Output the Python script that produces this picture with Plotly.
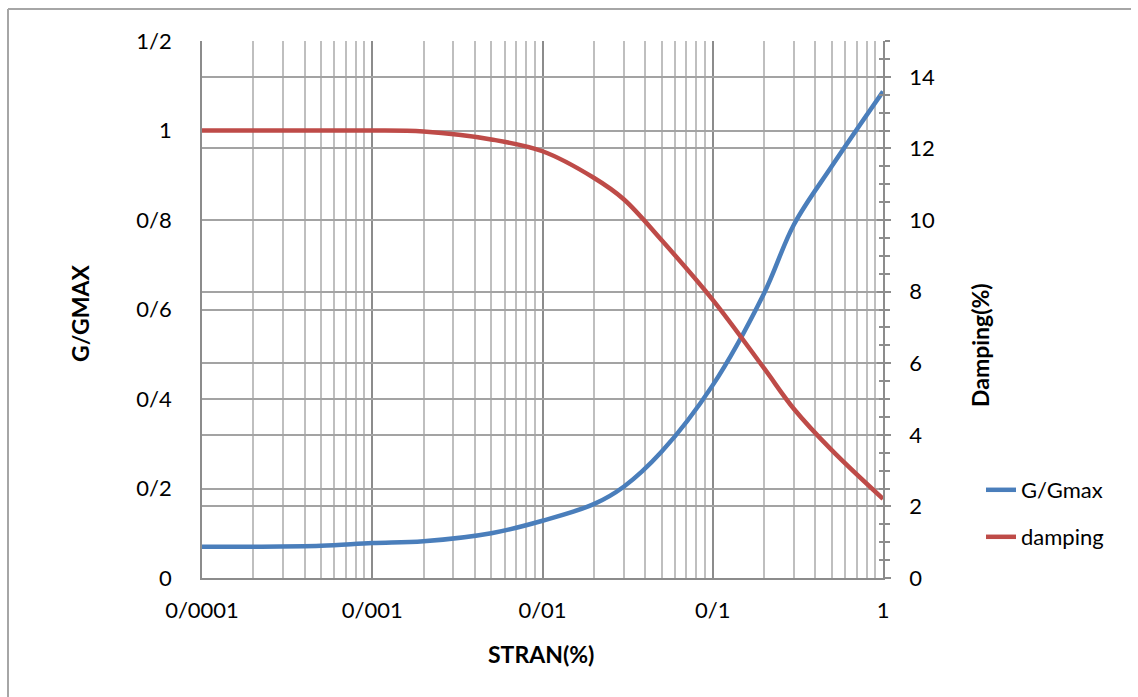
import plotly.graph_objects as go

# Shear strain (%) and the two measured curves
strain = [0.0001, 0.0002, 0.0005, 0.001, 0.002, 0.005, 0.01, 0.02, 0.03, 0.05, 0.1, 0.2, 0.3, 0.5, 1]
g_ratio = [0.070, 0.070, 0.072, 0.078, 0.082, 0.100, 0.128, 0.165, 0.204, 0.282, 0.431, 0.636, 0.790, 0.920, 1.087]
damping = [12.5, 12.5, 12.5, 12.5, 12.47, 12.25, 11.92, 11.18, 10.58, 9.44, 7.77, 5.86, 4.72, 3.57, 2.21]

# Tick labels (slash used as the decimal separator)
x_tickvals = [0.0001, 0.001, 0.01, 0.1, 1]
x_ticktext = ["0/0001", "0/001", "0/01", "0/1", "1"]
y_tickvals = [0, 0.2, 0.4, 0.6, 0.8, 1.0, 1.2]
y_ticktext = ["0", "0/2", "0/4", "0/6", "0/8", "1", "1/2"]
y2_tickvals = [0, 2, 4, 6, 8, 10, 12, 14]

W, H = 1138, 697
L, R, T, B = 202, 883, 41, 578
FONT = "Lato"
FS = 22

def px_x(p):
    return (p - L) / (R - L)

def px_y(p):
    return (B - p) / (B - T)

minor_x = [m * 10 ** e for e in range(-4, 0) for m in range(2, 10)]

fig = go.Figure()
fig.add_trace(go.Scatter(
    x=strain, y=g_ratio, name="G/Gmax", mode="lines",
    line=dict(color="#4A7EBB", width=4.5, shape="spline", smoothing=1.0),
    legend="legend",
))
fig.add_trace(go.Scatter(
    x=strain, y=damping, name="damping", mode="lines", yaxis="y2",
    line=dict(color="#BE4B48", width=4.5, shape="spline", smoothing=1.0),
    legend="legend2",
))
# invisible carrier for the inward half of the right-axis tick marks
fig.add_trace(go.Scatter(x=[0.0001], y=[0], yaxis="y3", mode="markers",
                         marker=dict(opacity=0), showlegend=False, hoverinfo="skip"))

grid_major = "#8C8C8C"
grid_minor = "#BFBFBF"
grid_h = "#A3A3A3"

fig.update_layout(
    width=W, height=H,
    margin=dict(l=L, r=W - R, t=T, b=H - B),
    paper_bgcolor="white", plot_bgcolor="white",
    font=dict(family=FONT, size=FS, color="#000000"),
    xaxis=dict(
        type="log", range=[-4, 0],
        tickvals=x_tickvals, ticktext=x_ticktext,
        showgrid=True, gridcolor=grid_major, gridwidth=1.8,
        minor=dict(tickvals=minor_x, showgrid=True, gridcolor=grid_minor, gridwidth=1.6, ticks=""),
        showline=True, linecolor=grid_major, linewidth=1.8,
        ticks="", ticklabelstandoff=12, zeroline=False,
    ),
    yaxis=dict(
        range=[0, 1.2], tickvals=y_tickvals, ticktext=y_ticktext,
        showgrid=True, gridcolor=grid_h, gridwidth=1.5,
        showline=True, linecolor=grid_major, linewidth=1.8,
        ticks="", ticklabelstandoff=24, zeroline=False,
    ),
    yaxis2=dict(
        overlaying="y", side="right", range=[0, 15],
        tickvals=y2_tickvals,
        showgrid=True, gridcolor=grid_h, gridwidth=1.5,
        showline=True, linecolor=grid_major, linewidth=1.8,
        ticks="outside", ticklen=6, tickcolor=grid_major, tickwidth=1.5,
        minor=dict(dtick=0.5, ticks="outside", ticklen=5, tickcolor=grid_major, tickwidth=1.5),
        ticklabelstandoff=14, zeroline=False,
    ),
    yaxis3=dict(
        overlaying="y", side="right", range=[0, 15],
        tickvals=y2_tickvals, showticklabels=False, showgrid=False,
        ticks="inside", ticklen=6, tickcolor=grid_major, tickwidth=1.5,
        minor=dict(dtick=0.5, ticks="inside", ticklen=4, tickcolor=grid_major, tickwidth=1.5),
        zeroline=False,
    ),
    legend=dict(x=px_x(981), y=px_y(490), xanchor="left", yanchor="middle",
                font=dict(family=FONT, size=FS), bgcolor="rgba(0,0,0,0)"),
    legend2=dict(x=px_x(981), y=px_y(537), xanchor="left", yanchor="middle",
                 font=dict(family=FONT, size=FS), bgcolor="rgba(0,0,0,0)"),
    showlegend=True,
)

# axis titles
TS = 23
fig.add_annotation(text="<b>G/GMAX</b>", xref="paper", yref="paper",
                   x=px_x(80), y=px_y(313), xanchor="center", yanchor="middle",
                   textangle=-90, showarrow=False, font=dict(family=FONT, size=TS))
fig.add_annotation(text="<b>Damping(%)</b>", xref="paper", yref="paper",
                   x=px_x(980), y=px_y(345), xanchor="center", yanchor="middle",
                   textangle=-90, showarrow=False, font=dict(family=FONT, size=TS))
fig.add_annotation(text="<b>STRAN(%)</b>", xref="paper", yref="paper",
                   x=px_x(541), y=px_y(654), xanchor="center", yanchor="middle",
                   showarrow=False, font=dict(family=FONT, size=TS))

# chart frame
frame = dict(color="#A6A6A6", width=2)
fig.add_shape(type="line", xref="paper", yref="paper",
              x0=px_x(8), x1=px_x(8), y0=px_y(9), y1=px_y(710), line=frame)
fig.add_shape(type="line", xref="paper", yref="paper",
              x0=px_x(8), x1=px_x(1131), y0=px_y(9), y1=px_y(9), line=frame)

fig.write_html("out.html")
